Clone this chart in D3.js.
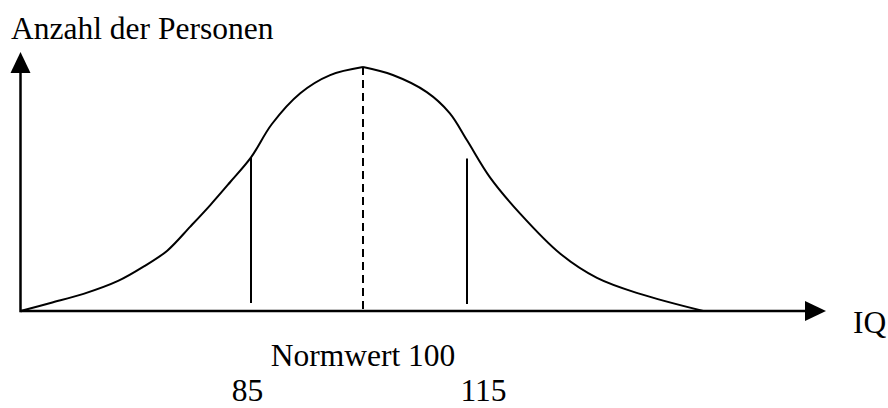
<!DOCTYPE html>
<html>
<head>
<meta charset="utf-8">
<script src="https://cdn.jsdelivr.net/npm/d3@7"></script>
<style>
  html, body { margin: 0; padding: 0; background: #fff; }
  svg { display: block; }
  text { font-family: "Liberation Serif", "Times New Roman", "DejaVu Serif", serif; fill: #000; }
</style>
</head>
<body>
<svg id="chart" width="888" height="408"></svg>
<script>
// Bell curve of IQ scores (number of persons per IQ value, relative units)
const curveIQ    = [55, 58.9, 63.2, 67.7, 71.0, 74.1, 77.1, 79.7, 82.3, 85, 87.8, 91.6, 95.6, 100,
                    104.3, 109.2, 112.5, 115, 118.2, 122.4, 128.0, 133.1, 139.1, 147.9];
const curveCount = [0, 3.1, 6.6, 11.6, 17.1, 23.3, 32.6, 40.9, 49.8, 59.3, 72.2, 84.1, 91.1, 94.2,
                    91.1, 84.5, 76.4, 65.9, 51.6, 37.6, 22.1, 12.8, 6.6, 0];

// One standard deviation below / above the norm value
const markerIQ     = [85, 115];
const markerTop    = [59.3, 58.9];
const markerBottom = [3.1, 2.7];
const markerLabels = ["85", "115"];

const normIQ = 100;
const normLabel = "Normwert 100";
const yTitle = "Anzahl der Personen";
const xTitle = "IQ";

const axisIQ = [55, 165];     // extent of the IQ axis
const axisCount = [0, 100];   // extent of the count axis

const svg = d3.select("#chart");

// Hand-drawn proportions: a slightly uneven piecewise scale
const x = d3.scaleLinear()
  .domain([axisIQ[0], 85, 100, 115, axisIQ[1]])
  .range([20.5, 251, 363, 467, 826]);
const y = d3.scaleLinear().domain(axisCount).range([311, 52]);

const arrowLen = 21, arrowHalf = 10;

// Axes with arrowheads
svg.append("line")
  .attr("x1", x(axisIQ[0])).attr("y1", y(0))
  .attr("x2", x(axisIQ[1]) - arrowLen + 2).attr("y2", y(0))
  .attr("stroke", "#000").attr("stroke-width", 2.5);
svg.append("path")
  .attr("d", `M${x(axisIQ[1])},${y(0)} L${x(axisIQ[1]) - arrowLen},${y(0) - arrowHalf} L${x(axisIQ[1]) - arrowLen},${y(0) + arrowHalf} Z`)
  .attr("fill", "#000");

svg.append("line")
  .attr("x1", x(axisIQ[0])).attr("y1", y(0) + 1.25)
  .attr("x2", x(axisIQ[0])).attr("y2", y(axisCount[1]) + arrowLen - 2)
  .attr("stroke", "#000").attr("stroke-width", 2.5);
svg.append("path")
  .attr("d", `M${x(axisIQ[0])},${y(axisCount[1])} L${x(axisIQ[0]) - arrowHalf},${y(axisCount[1]) + arrowLen} L${x(axisIQ[0]) + arrowHalf},${y(axisCount[1]) + arrowLen} Z`)
  .attr("fill", "#000");

// Curve, drawn as two halves meeting at the peak
const pts = curveIQ.map((v, i) => [v, curveCount[i]]);
const peakIdx = curveIQ.indexOf(normIQ);
const line = d3.line().x(d => x(d[0])).y(d => y(d[1])).curve(d3.curveCatmullRom.alpha(0.5));
[pts.slice(0, peakIdx + 1), pts.slice(peakIdx)].forEach(part => {
  svg.append("path")
    .attr("d", line(part))
    .attr("fill", "none")
    .attr("stroke", "#000")
    .attr("stroke-width", 2)
    .attr("stroke-linejoin", "round");
});

// Dashed line at the norm value
svg.append("line")
  .attr("x1", x(normIQ)).attr("y1", y(curveCount[peakIdx]))
  .attr("x2", x(normIQ)).attr("y2", y(0))
  .attr("stroke", "#000").attr("stroke-width", 2)
  .attr("stroke-dasharray", "8,5");

// Standard deviation markers
svg.selectAll(".marker")
  .data(markerIQ)
  .enter().append("line")
  .attr("class", "marker")
  .attr("x1", d => x(d)).attr("x2", d => x(d))
  .attr("y1", (d, i) => y(markerTop[i]))
  .attr("y2", (d, i) => y(markerBottom[i]))
  .attr("stroke", "#000").attr("stroke-width", 2);

// Texts
const fs = "31.5px";
svg.append("text").attr("x", 11).attr("y", 39).style("font-size", fs).text(yTitle);
svg.append("text").attr("x", 853).attr("y", 333).style("font-size", fs).text(xTitle);
svg.append("text").attr("x", x(normIQ)).attr("y", 366)
  .attr("text-anchor", "middle").style("font-size", fs).text(normLabel);

const labelShift = [-3.5, 16.5];
svg.selectAll(".mlabel")
  .data(markerIQ)
  .enter().append("text")
  .attr("class", "mlabel")
  .attr("x", (d, i) => x(d) + labelShift[i])
  .attr("y", 401)
  .attr("text-anchor", "middle")
  .style("font-size", fs)
  .text((d, i) => markerLabels[i]);
</script>
</body>
</html>
